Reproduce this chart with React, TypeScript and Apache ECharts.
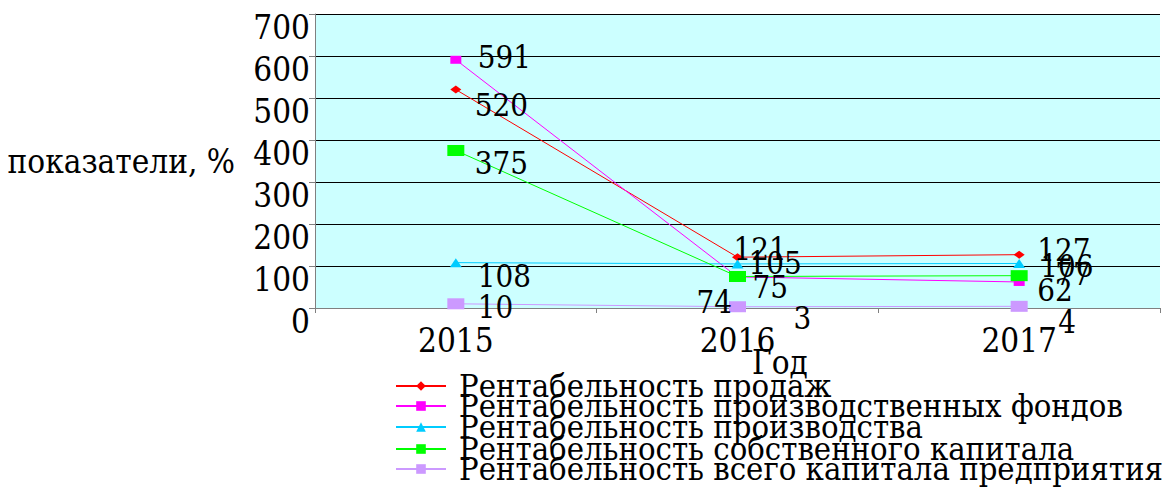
import React, { useEffect, useRef } from "react";
import * as echarts from "echarts";

const years = ["2015", "2016", "2017"];
const seriesNames = [
  "Рентабельность продаж",
  "Рентабельность производственных фондов",
  "Рентабельность производства",
  "Рентабельность собственного капитала",
  "Рентабельность всего капитала предприятия",
];
const salesProfit = [520, 121, 127];
const fundsProfit = [591, 74, 62];
const productionProfit = [108, 105, 106];
const equityProfit = [375, 75, 77];
const totalCapitalProfit = [10, 3, 4];
const yTicks = { min: 0, max: 700, interval: 100 };

const FONT = "DejaVu Serif Condensed, DejaVu Serif";

const labelOffsets: number[][][] = [
  [[19, 15], [-4, -8], [18, -5]],
  [[22, -3], [-41, 25], [18, 8]],
  [[22, 13], [11, -1], [21, 3]],
  [[19, 12], [15, 10], [36, -2]],
  [[22, 3], [56, 11], [39, 16]],
];
const colors = ["#FF0000", "#FF00FF", "#00CCFF", "#00FF00", "#CC99FF"];
const symbols = ["diamond", "rect", "triangle", "rect", "rect"];
const symbolSizes: any[] = [[11, 8], [11, 8], [12, 9], [17, 11], [17, 11]];
const legendTops = [366, 386, 407, 429, 449];

export default function App() {
  const ref = useRef<HTMLDivElement>(null);
  useEffect(() => {
    if (!ref.current) return;
    const chart = echarts.init(ref.current, null, { renderer: "svg" });
    const values = [salesProfit, fundsProfit, productionProfit, equityProfit, totalCapitalProfit];
    const series = values.map((vals, si) => ({
      name: seriesNames[si],
      type: "line",
      data: vals.map((v, i) => ({
        value: v,
        label: {
          show: true,
          position: "inside",
          align: "left",
          verticalAlign: "middle",
          offset: labelOffsets[si][i],
        },
      })),
      symbol: symbols[si],
      symbolSize: symbolSizes[si],
      lineStyle: { color: colors[si], width: 1 },
      itemStyle: { color: colors[si] },
      label: {
        fontFamily: FONT,
        fontSize: 31,
        color: "#000",
      },
      emphasis: { disabled: true },
    }));
    chart.setOption({
      animation: false,
      grid: {
        left: 315, right: 6, top: 14, bottom: 180,
        show: true, backgroundColor: "#CCFFFF", borderWidth: 0,
        outerBoundsMode: "none",
      },
      legend: seriesNames.map((n, i) => ({
        data: [n],
        left: 395,
        top: legendTops[i],
        padding: 0,
        orient: "vertical",
        itemWidth: 50,
        itemHeight: 12,
        selectedMode: false,
        textStyle: { fontFamily: FONT, fontSize: 32.5, color: "#000", padding: [18, 0, 0, 8], lineHeight: 22 },
      })),
      xAxis: {
        type: "category",
        data: years,
        boundaryGap: true,
        name: "Год",
        nameLocation: "middle",
        nameGap: 38,
        nameMoveOverlap: false,
        nameTextStyle: { fontFamily: FONT, fontSize: 33, color: "#000", padding: [0, 0, 0, 85] },
        axisLine: { lineStyle: { color: "#808080", width: 1 } },
        axisTick: { show: true, length: 5, interval: 0, lineStyle: { color: "#808080" } },
        axisLabel: { fontFamily: FONT, fontSize: 33, color: "#000", margin: 16 },
      },
      yAxis: {
        type: "value",
        min: yTicks.min,
        max: yTicks.max,
        interval: yTicks.interval,
        name: "показатели, %",
        nameLocation: "middle",
        nameRotate: 0,
        nameGap: 80,
        nameTextStyle: { fontFamily: FONT, fontSize: 33, color: "#000", align: "right" },
        axisLine: { show: true, lineStyle: { color: "#808080", width: 1 } },
        axisTick: { show: true, length: 6, lineStyle: { color: "#808080" } },
        splitLine: { show: true, lineStyle: { color: "#000", width: 1 } },
        axisLabel: { fontFamily: FONT, fontSize: 33, color: "#000", margin: 5, verticalAlign: "top", lineHeight: 26 },
      },
      series,
    });
    return () => chart.dispose();
  }, []);
  return <div ref={ref} style={{ width: 1166, height: 488, position: "absolute", left: 0, top: 0 }} />;
}
